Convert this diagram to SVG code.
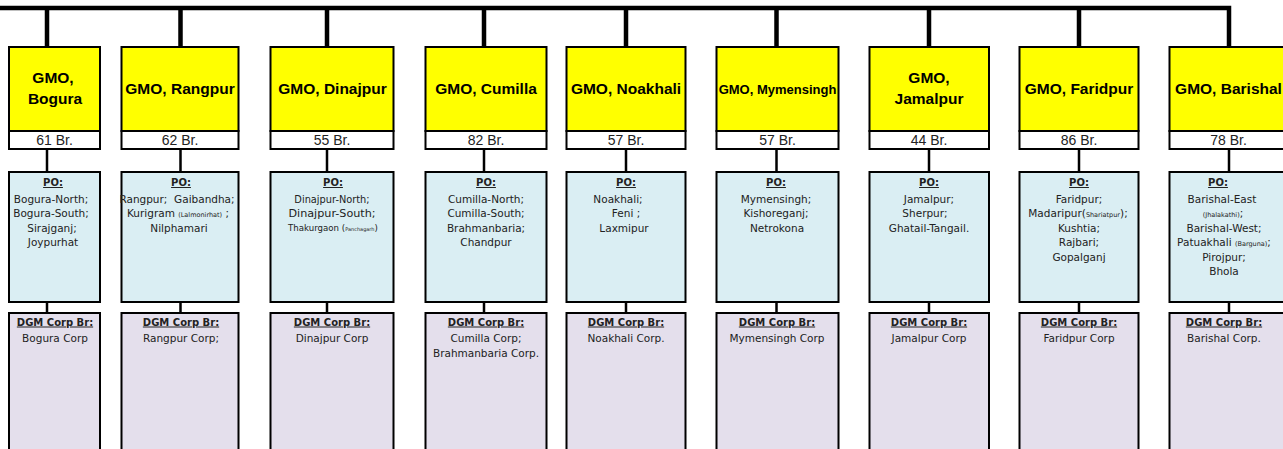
<svg xmlns="http://www.w3.org/2000/svg" width="1283" height="449" viewBox="0 0 1283 449">
<style>
.box{stroke:#000;stroke-width:2}
.gmo{fill:#ffff00}
.cnt{fill:#ffffff}
.po{fill:#daeef3}
.dgm{fill:#e4dfec}
.bus{stroke:#000;stroke-width:4.5;fill:none;stroke-linejoin:miter}
.link{stroke:#000;stroke-width:2.5;fill:none}
.tg{font-family:"Liberation Sans",Arial,sans-serif;font-weight:bold;font-size:15.5px;fill:#000;text-anchor:middle}
.tb{font-family:"Liberation Sans",Arial,sans-serif;font-size:14px;fill:#222;text-anchor:middle}
.t{font-family:"DejaVu Sans",Verdana,sans-serif;font-size:10.5px;fill:#222;text-anchor:middle}
.h{font-weight:bold;text-decoration:underline;font-size:10px}
.s{font-size:6.5px}
</style>

<!-- bus bar, drops and links -->
<g id="connectors">
  <path class="bus" d="M0,8 H1229 V47 M47,8 V47 M180.5,8 V47 M327,8 V47 M484,8 V47 M626,8 V47 M776.5,8 V47 M929,8 V47 M1079,8 V47"/>
  <path class="link" d="M47,149 V172 M180.5,149 V172 M327,149 V172 M484,149 V172 M626,149 V172 M776.5,149 V172 M929,149 V172 M1079,149 V172 M1229,149 V172"/>
  <path class="link" d="M47,302 V313 M180.5,302 V313 M327,302 V313 M484,302 V313 M626,302 V313 M776.5,302 V313 M929,302 V313 M1079,302 V313 M1229,302 V313"/>
</g>

<!-- GMO boxes with branch counts -->
<g id="gmo-bogura">
  <rect class="box gmo" x="9" y="47" width="91" height="84"/>
  <rect class="box cnt" x="9" y="131" width="91" height="18"/>
  <text class="tg" x="53" y="83">GMO,</text>
  <text class="tg" x="55" y="104">Bogura</text>
  <text class="tb" x="54.5" y="145">61 Br.</text>
</g>
<g id="gmo-rangpur">
  <rect class="box gmo" x="121.5" y="47" width="117" height="84"/>
  <rect class="box cnt" x="121.5" y="131" width="117" height="18"/>
  <text class="tg" x="180" y="94">GMO, Rangpur</text>
  <text class="tb" x="180" y="145">62 Br.</text>
</g>
<g id="gmo-dinajpur">
  <rect class="box gmo" x="270.5" y="47" width="123" height="84"/>
  <rect class="box cnt" x="270.5" y="131" width="123" height="18"/>
  <text class="tg" x="332.5" y="94">GMO, Dinajpur</text>
  <text class="tb" x="332" y="145">55 Br.</text>
</g>
<g id="gmo-cumilla">
  <rect class="box gmo" x="425.5" y="47" width="121" height="84"/>
  <rect class="box cnt" x="425.5" y="131" width="121" height="18"/>
  <text class="tg" x="486" y="94">GMO, Cumilla</text>
  <text class="tb" x="486" y="145">82 Br.</text>
</g>
<g id="gmo-noakhali">
  <rect class="box gmo" x="566.5" y="47" width="119" height="84"/>
  <rect class="box cnt" x="566.5" y="131" width="119" height="18"/>
  <text class="tg" x="626" y="94">GMO, Noakhali</text>
  <text class="tb" x="626" y="145">57 Br.</text>
</g>
<g id="gmo-mymensingh">
  <rect class="box gmo" x="716.5" y="47" width="122" height="84"/>
  <rect class="box cnt" x="716.5" y="131" width="122" height="18"/>
  <text class="tg" x="777.5" y="93.5" style="font-size:13px">GMO, Mymensingh</text>
  <text class="tb" x="777.5" y="145">57 Br.</text>
</g>
<g id="gmo-jamalpur">
  <rect class="box gmo" x="869.5" y="47" width="119.5" height="84"/>
  <rect class="box cnt" x="869.5" y="131" width="119.5" height="18"/>
  <text class="tg" x="929" y="83">GMO,</text>
  <text class="tg" x="929" y="104">Jamalpur</text>
  <text class="tb" x="929" y="145">44 Br.</text>
</g>
<g id="gmo-faridpur">
  <rect class="box gmo" x="1019.5" y="47" width="119" height="84"/>
  <rect class="box cnt" x="1019.5" y="131" width="119" height="18"/>
  <text class="tg" x="1079" y="94">GMO, Faridpur</text>
  <text class="tb" x="1079" y="145">86 Br.</text>
</g>
<g id="gmo-barishal">
  <rect class="box gmo" x="1169.5" y="47" width="121" height="84"/>
  <rect class="box cnt" x="1169.5" y="131" width="121" height="18"/>
  <text class="tg" x="1228.5" y="94">GMO, Barishal</text>
  <text class="tb" x="1228.5" y="145">78 Br.</text>
</g>

<!-- PO boxes -->
<g id="po-bogura">
  <rect class="box po" x="9" y="172" width="91" height="130"/>
  <text class="t h" x="53" y="186">PO:</text>
  <text class="t" x="51" y="202.5">Bogura-North;</text>
  <text class="t" x="51" y="217">Bogura-South;</text>
  <text class="t" x="52" y="231.5">Sirajganj;</text>
  <text class="t" x="53" y="246">Joypurhat</text>
</g>
<g id="po-rangpur">
  <rect class="box po" x="121.5" y="172" width="117" height="130"/>
  <text class="t h" x="181" y="186">PO:</text>
  <text class="t" x="177" y="202.5">Rangpur;&#160; Gaibandha;</text>
  <text class="t" x="178" y="217">Kurigram <tspan class="s">(Lalmonirhat)</tspan> ;</text>
  <text class="t" x="179" y="231.5">Nilphamari</text>
</g>
<g id="po-dinajpur">
  <rect class="box po" x="270.5" y="172" width="123" height="130"/>
  <text class="t h" x="333" y="186">PO:</text>
  <text class="t" x="332" y="202.5" style="font-size:9.8px">Dinajpur-North;</text>
  <text class="t" x="332" y="217" style="font-size:11.2px">Dinajpur-South;</text>
  <text class="t" x="333" y="231" style="font-size:8.6px">Thakurgaon (<tspan style="font-size:5px">Panchagarh</tspan>)</text>
</g>
<g id="po-cumilla">
  <rect class="box po" x="425.5" y="172" width="121" height="130"/>
  <text class="t h" x="486" y="186">PO:</text>
  <text class="t" x="486" y="202.5">Cumilla-North;</text>
  <text class="t" x="486" y="217">Cumilla-South;</text>
  <text class="t" x="486" y="231.5">Brahmanbaria;</text>
  <text class="t" x="486" y="246">Chandpur</text>
</g>
<g id="po-noakhali">
  <rect class="box po" x="566.5" y="172" width="119" height="130"/>
  <text class="t h" x="626" y="186">PO:</text>
  <text class="t" x="618" y="202.5">Noakhali;</text>
  <text class="t" x="626" y="217">Feni ;</text>
  <text class="t" x="624" y="231.5">Laxmipur</text>
</g>
<g id="po-mymensingh">
  <rect class="box po" x="716.5" y="172" width="122" height="130"/>
  <text class="t h" x="776" y="186">PO:</text>
  <text class="t" x="776" y="202.5">Mymensingh;</text>
  <text class="t" x="776" y="217">Kishoreganj;</text>
  <text class="t" x="777" y="231.5">Netrokona</text>
</g>
<g id="po-jamalpur">
  <rect class="box po" x="869.5" y="172" width="119.5" height="130"/>
  <text class="t h" x="929" y="186">PO:</text>
  <text class="t" x="929" y="202.5">Jamalpur;</text>
  <text class="t" x="925" y="217">Sherpur;</text>
  <text class="t" x="929" y="231.5">Ghatail-Tangail.</text>
</g>
<g id="po-faridpur">
  <rect class="box po" x="1019.5" y="172" width="119" height="130"/>
  <text class="t h" x="1079" y="186">PO:</text>
  <text class="t" x="1079" y="202.5">Faridpur;</text>
  <text class="t" x="1078" y="217">Madaripur(<tspan class="s">Shariatpur</tspan>);</text>
  <text class="t" x="1079" y="231.5">Kushtia;</text>
  <text class="t" x="1079" y="246">Rajbari;</text>
  <text class="t" x="1079" y="260.5">Gopalganj</text>
</g>
<g id="po-barishal">
  <rect class="box po" x="1169.5" y="172" width="121" height="130"/>
  <text class="t h" x="1218" y="186">PO:</text>
  <text class="t" x="1222" y="202.5">Barishal-East</text>
  <text class="t" x="1223" y="217"><tspan class="s">(Jhalakathi)</tspan>;</text>
  <text class="t" x="1224" y="231.5">Barishal-West;</text>
  <text class="t" x="1224" y="246">Patuakhali <tspan class="s">(Barguna)</tspan>;</text>
  <text class="t" x="1224" y="260.5">Pirojpur;</text>
  <text class="t" x="1224" y="275">Bhola</text>
</g>

<!-- DGM corporate branch boxes -->
<g id="dgm-bogura">
  <rect class="box dgm" x="9" y="313" width="91" height="150"/>
  <text class="t h" x="55" y="325.5">DGM Corp Br:</text>
  <text class="t" x="55" y="342">Bogura Corp</text>
</g>
<g id="dgm-rangpur">
  <rect class="box dgm" x="121.5" y="313" width="117" height="150"/>
  <text class="t h" x="181" y="325.5">DGM Corp Br:</text>
  <text class="t" x="181" y="342">Rangpur Corp;</text>
</g>
<g id="dgm-dinajpur">
  <rect class="box dgm" x="270.5" y="313" width="123" height="150"/>
  <text class="t h" x="332" y="325.5">DGM Corp Br:</text>
  <text class="t" x="332" y="342">Dinajpur Corp</text>
</g>
<g id="dgm-cumilla">
  <rect class="box dgm" x="425.5" y="313" width="121" height="150"/>
  <text class="t h" x="486" y="325.5">DGM Corp Br:</text>
  <text class="t" x="486" y="342">Cumilla Corp;</text>
  <text class="t" x="486" y="357">Brahmanbaria Corp.</text>
</g>
<g id="dgm-noakhali">
  <rect class="box dgm" x="566.5" y="313" width="119" height="150"/>
  <text class="t h" x="626" y="325.5">DGM Corp Br:</text>
  <text class="t" x="626" y="342">Noakhali Corp.</text>
</g>
<g id="dgm-mymensingh">
  <rect class="box dgm" x="716.5" y="313" width="122" height="150"/>
  <text class="t h" x="777" y="325.5">DGM Corp Br:</text>
  <text class="t" x="777" y="342">Mymensingh Corp</text>
</g>
<g id="dgm-jamalpur">
  <rect class="box dgm" x="869.5" y="313" width="119.5" height="150"/>
  <text class="t h" x="929" y="325.5">DGM Corp Br:</text>
  <text class="t" x="929" y="342">Jamalpur Corp</text>
</g>
<g id="dgm-faridpur">
  <rect class="box dgm" x="1019.5" y="313" width="119" height="150"/>
  <text class="t h" x="1079" y="325.5">DGM Corp Br:</text>
  <text class="t" x="1079" y="342">Faridpur Corp</text>
</g>
<g id="dgm-barishal">
  <rect class="box dgm" x="1169.5" y="313" width="121" height="150"/>
  <text class="t h" x="1224" y="325.5">DGM Corp Br:</text>
  <text class="t" x="1224" y="342">Barishal Corp.</text>
</g>
</svg>
